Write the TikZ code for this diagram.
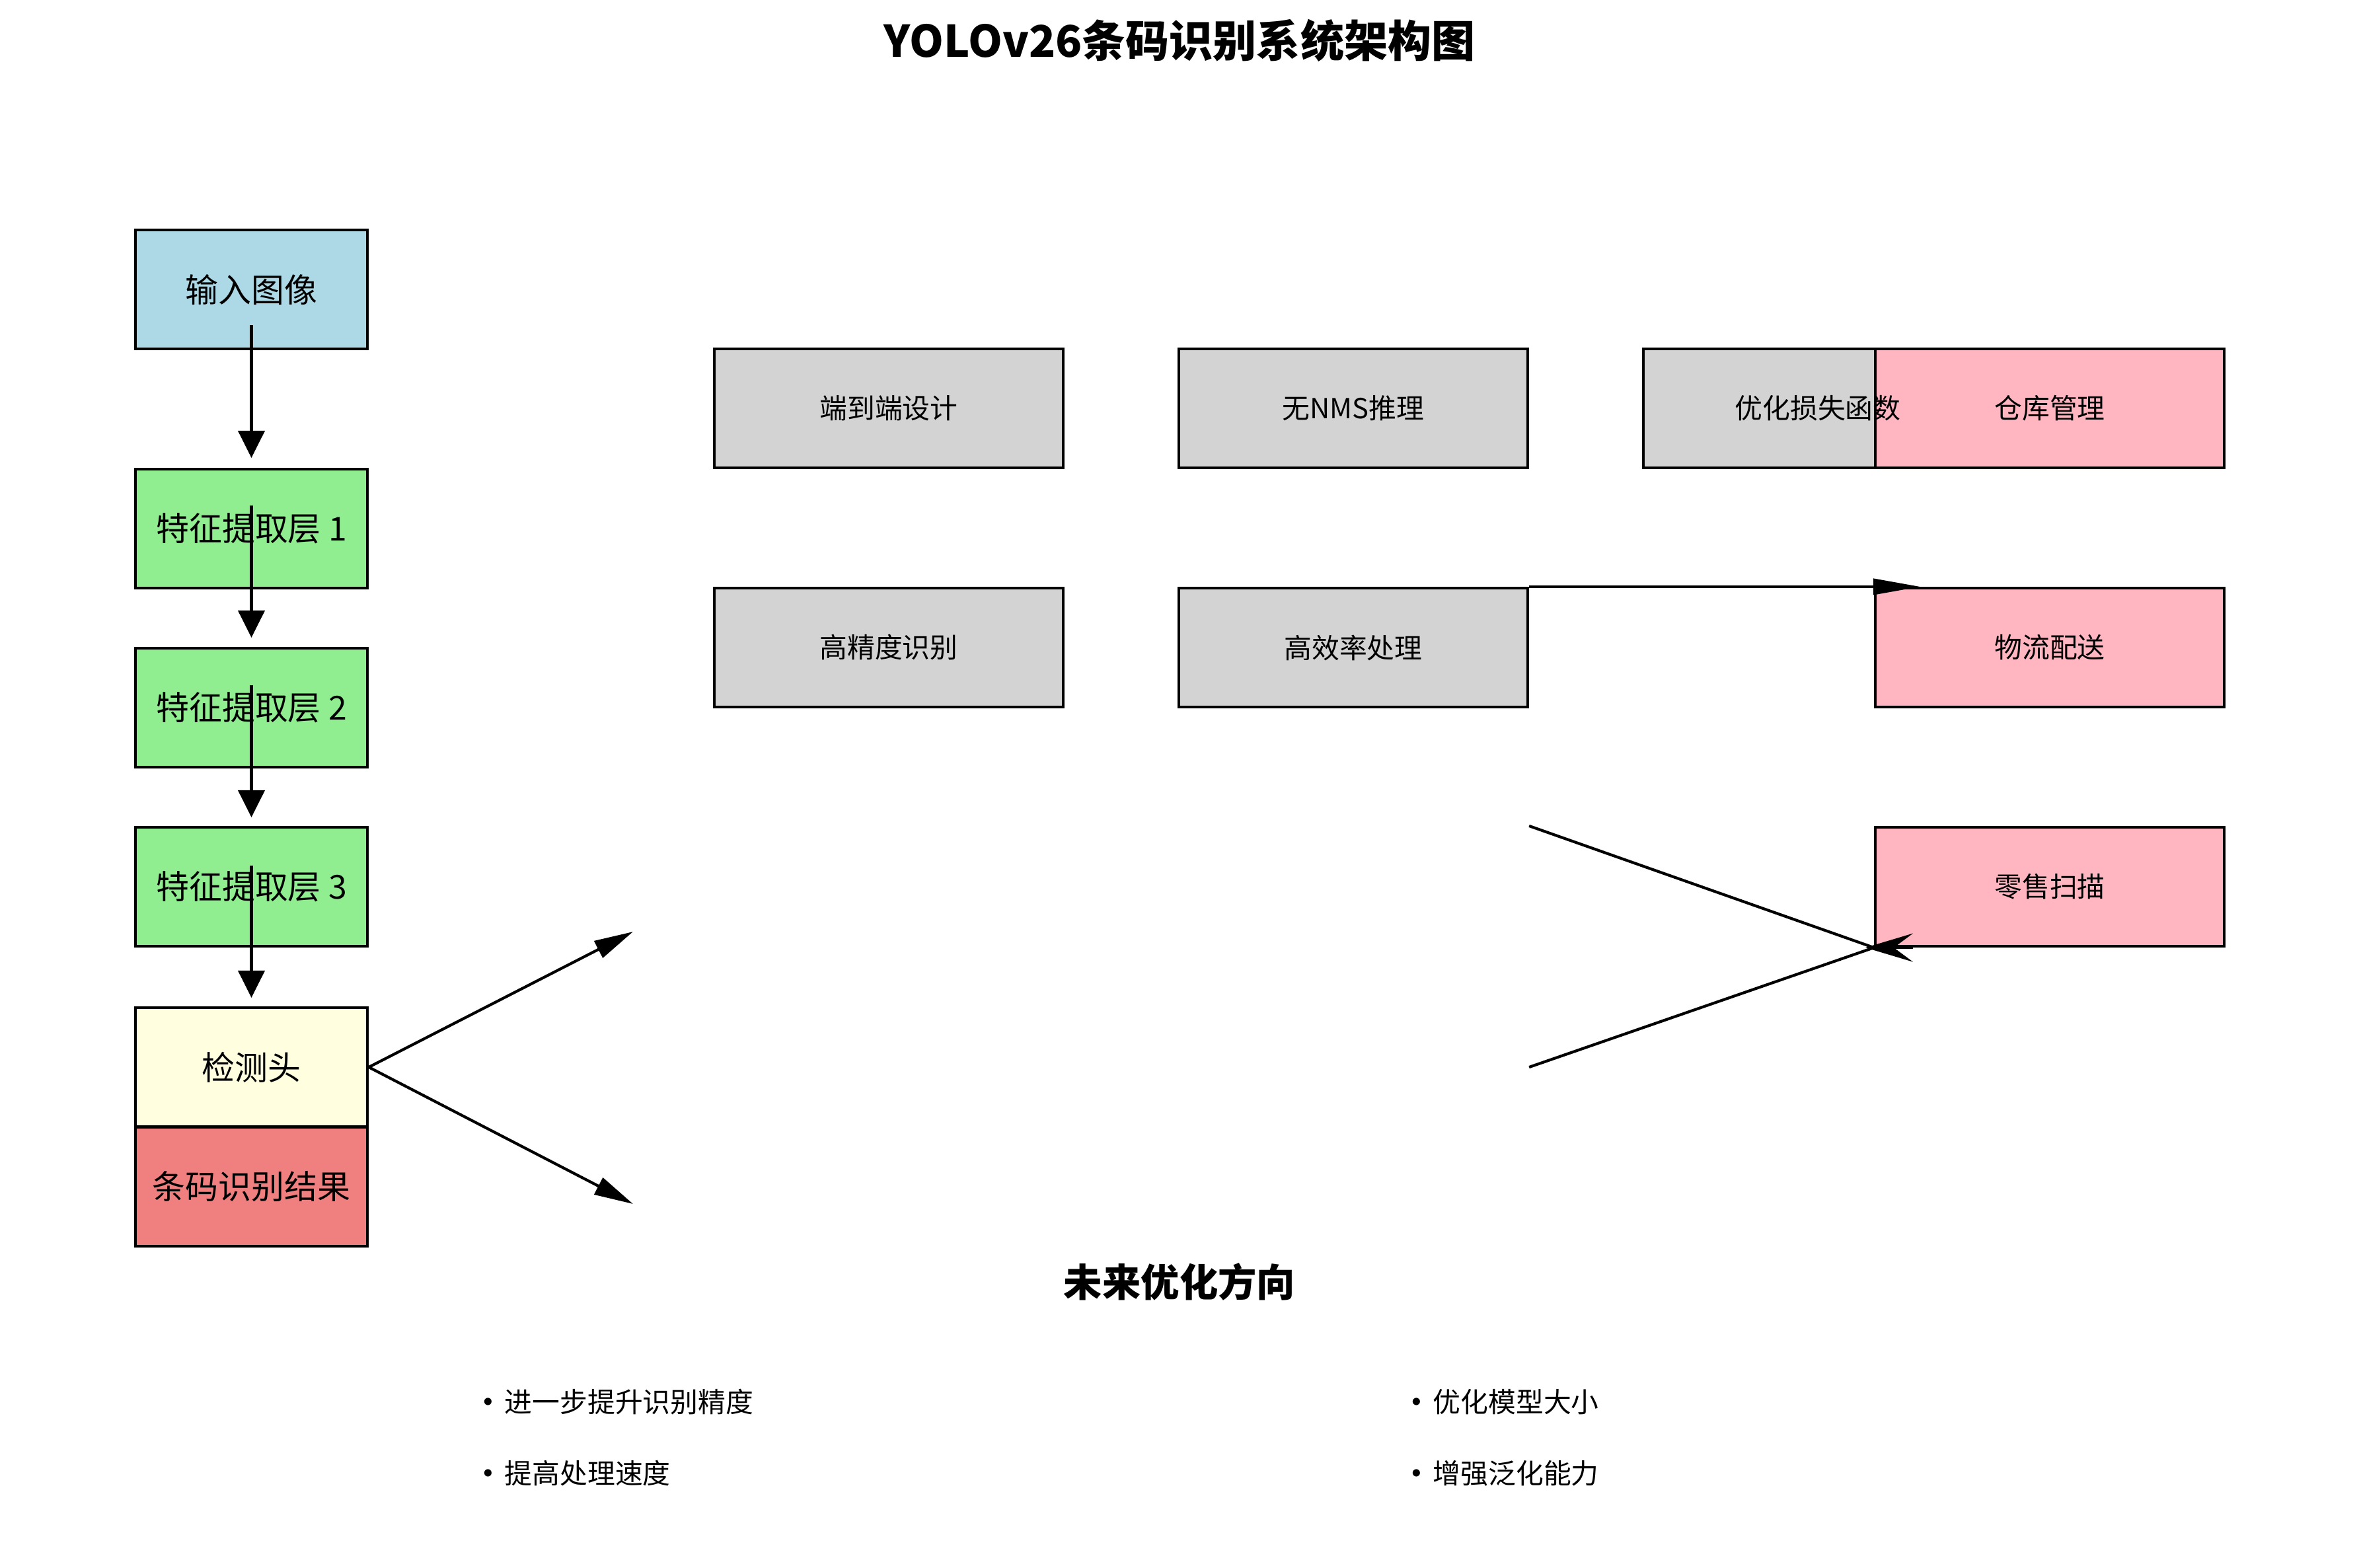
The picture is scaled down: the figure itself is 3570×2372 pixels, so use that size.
\documentclass[tikz,border=0pt]{standalone}
\usepackage{fontspec}
\setmainfont{Noto Sans CJK SC}
\usetikzlibrary{arrows.meta}

\definecolor{inblue}{HTML}{ADD8E6}
\definecolor{featgreen}{HTML}{90EE90}
\definecolor{headyellow}{HTML}{FFFFE0}
\definecolor{resultred}{HTML}{F08080}
\definecolor{techgray}{HTML}{D3D3D3}
\definecolor{apppink}{HTML}{FFB6C1}

\newcommand{\dotmark}{\raisebox{-0.4mm}{\fontsize{15}{14}\selectfont •}\kern-1.1mm\ }

\begin{document}
\begin{tikzpicture}[
        x=0.1mm, y=-0.1mm,
        box/.style={draw, line width=0.42mm, inner sep=0pt, minimum height=18mm},
        stage/.style={box, minimum width=35.1mm, font=\fontsize{14.2}{17}\selectfont},
        small/.style={font=\fontsize{11.9}{14}\selectfont},
        tech/.style={box, small, fill=techgray, minimum width=52.8mm},
        app/.style={box, small, fill=apppink, minimum width=52.8mm},
        heading/.style={font=\bfseries\fontsize{18.8}{22}\selectfont},
        bullet/.style={small, anchor=west, inner sep=0pt},
        flow/.style={-{Triangle[length=4.1mm, width=4mm]}, line width=0.42mm},
        branch/.style={-{Triangle[length=5.9mm, width=2.8mm]}, line width=0.42mm},
        hflow/.style={-{Triangle[length=7.1mm, width=2.4mm]}, line width=0.42mm},
        link/.style={line width=0.42mm},
        mergehead/.style={-{Stealth[length=7.2mm, width=4.3mm, inset=2.9mm]}, line width=0.42mm}
    ]
        \useasboundingbox (0,0) rectangle (3570,2372);

        \node[heading] (title) at (1785,61) {YOLOv26条码识别系统架构图};

        \node[stage, fill=inblue] (input) at (380.5,438) {输入图像};
        \node[stage, fill=featgreen] (feat1) at (380.5,800) {特征提取层 1};
        \node[stage, fill=featgreen] (feat2) at (380.5,1071) {特征提取层 2};
        \node[stage, fill=featgreen] (feat3) at (380.5,1342) {特征提取层 3};
        \node[stage, fill=headyellow] (head) at (380.5,1615) {检测头};
        \node[stage, fill=resultred] (result) at (380.5,1796) {条码识别结果};

        \node[tech] (e2e) at (1345,618) {端到端设计};
        \node[tech] (nonms) at (2048,618) {无NMS推理};
        \node[tech] (loss) at (2751,618) {};
        \node[tech] (acc) at (1345,980) {高精度识别};
        \node[tech] (eff) at (2048,980) {高效率处理};

        \node[app] (store) at (3102,618) {仓库管理};
        \node[app] (logi) at (3102,980) {物流配送};
        \node[app] (retail) at (3102,1342) {零售扫描};
        \node[small] (loss-text) at (loss) {优化损失函数};

        \coordinate (up-end) at (958,1410);
        \coordinate (down-end) at (958,1822);

        \draw[flow] ([yshift=-5.4mm]input.center) -- ([yshift=1.5mm]feat1.north);
        \draw[flow] ([yshift=3.5mm]feat1.center) -- ([yshift=1.4mm]feat2.north);
        \draw[flow] ([yshift=3.4mm]feat2.center) -- ([yshift=1.3mm]feat3.north);
        \draw[flow] ([yshift=3.2mm]feat3.center) -- ([yshift=1.3mm]head.north);

        \draw[branch] (head.east) -- (up-end);
        \draw[branch] (head.east) -- (down-end);

        \draw[hflow] (eff.north east) -- ([xshift=7mm]logi.north west);
        \draw[link] (eff.east |- retail.north) -- (retail.south west);
        \draw[link] (eff.east |- head.east) -- (retail.south west);
        \draw[mergehead] ([xshift=5.9mm]retail.south west) -- ([xshift=-1.3mm]retail.south west);

        \node[heading, font=\bfseries\fontsize{16.6}{19}\selectfont] (future) at (1785,1940) {未来优化方向};
        \node[bullet] (plan1) at (712,2122) {\dotmark 进一步提升识别精度};
        \node[bullet] (plan2) at (712,2230) {\dotmark 提高处理速度};
        \node[bullet] (plan3) at (2117,2122) {\dotmark 优化模型大小};
        \node[bullet] (plan4) at (2117,2230) {\dotmark 增强泛化能力};
    \end{tikzpicture}
\end{document}
